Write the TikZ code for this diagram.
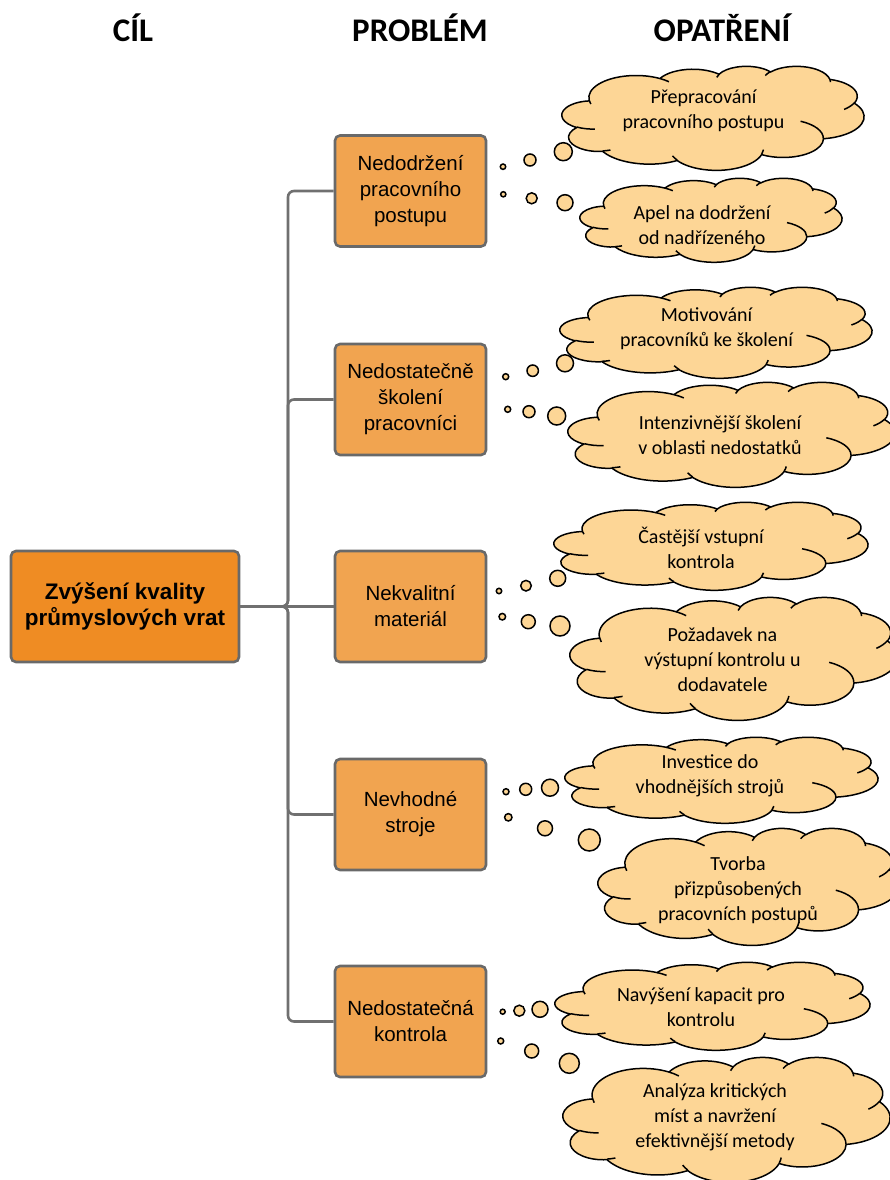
\documentclass[tikz,border=0pt]{standalone}
\usepackage{fontspec}
\setmainfont{Carlito}
\newfontfamily\boxfont{Liberation Sans}

\definecolor{goalfill}{RGB}{239,140,35}
\definecolor{probfill}{RGB}{241,164,80}
\definecolor{cloudfill}{RGB}{253,214,150}
\definecolor{boxline}{RGB}{105,105,105}
\definecolor{linegray}{RGB}{112,112,112}

% elliptical arc with true (not parametric) start angle and sweep, in degrees
\newcommand\ooarc[4]{%
  \pgfmathsetmacro\ooS{atan2((#1)*sin(#3),(#2)*cos(#3))}%
  \pgfmathsetmacro\ooE{atan2((#1)*sin((#3)+(#4)),(#2)*cos((#3)+(#4)))}%
  \pgfmathsetmacro\ooD{\ooE-\ooS}%
  \pgfmathsetmacro\ooD{ifthenelse((#4)>0,ifthenelse(\ooD<0,\ooD+360,\ooD),ifthenelse(\ooD>0,\ooD-360,\ooD))}%
  \pgfmathsetmacro\ooE{\ooS+\ooD}%
  \pgfpatharc{\ooS}{\ooE}{#1pt and #2pt}%
}

% cloud outline on a 432 x 432 frame
\newcommand\cloudoutline{%
  \pgfpathmoveto{\pgfpoint{39pt}{143.7pt}}%
  \ooarc{67.53}{91.90}{-190.4875}{123.7805}%
  \ooarc{53.33}{72.67}{-144.1024}{89.9452}%
  \ooarc{43.65}{59.45}{-145.8079}{99.7230}%
  \ooarc{48.57}{65.95}{-130.9861}{117.2417}%
  \ooarc{53.33}{72.73}{-78.7089}{109.0269}%
  \ooarc{67.75}{92.20}{-46.2673}{130.2690}%
  \ooarc{57.85}{78.67}{0.6250}{114.0333}%
  \ooarc{67.52}{92.15}{22.4516}{115.1726}%
  \ooarc{77.20}{105.43}{66.2426}{75.7110}%
  \ooarc{43.60}{59.18}{-274.9421}{146.7356}%
  \ooarc{43.45}{59.45}{-246.8285}{152.5195}%
  \pgfpathclose}

% the short inner creases of the cloud
\newcommand\cloudcreases{%
  \pgfpathmoveto{\pgfpoint{46.93pt}{261.77pt}}\ooarc{43.45}{59.45}{86.7420}{26.4295}%
  \pgfpathmoveto{\pgfpoint{69.28pt}{348.99pt}}\ooarc{43.60}{59.18}{73.6105}{11.4475}%
  \pgfpathmoveto{\pgfpoint{164.78pt}{390.90pt}}\ooarc{67.52}{92.15}{137.6242}{14.0811}%
  \pgfpathmoveto{\pgfpoint{288.27pt}{347.51pt}}\ooarc{67.52}{92.15}{6.4533}{15.9984}%
  \pgfpathmoveto{\pgfpoint{341.29pt}{229.54pt}}\ooarc{57.85}{78.67}{-70.2924}{70.9174}%
  \pgfpathmoveto{\pgfpoint{417.98pt}{153.54pt}}\ooarc{53.33}{72.73}{30.3180}{27.7515}%
  \pgfpathmoveto{\pgfpoint{383.24pt}{54.26pt}}\ooarc{48.57}{65.95}{-13.7443}{14.8589}%
  \pgfpathmoveto{\pgfpoint{290.78pt}{39.52pt}}\ooarc{48.57}{65.95}{-149.1815}{18.1954}%
  \pgfpathmoveto{\pgfpoint{221.41pt}{47.20pt}}\ooarc{43.65}{59.45}{-163.4943}{17.6864}%
  \pgfpathmoveto{\pgfpoint{140.00pt}{51.92pt}}\ooarc{67.53}{91.90}{-66.7070}{12.3194}%
  \pgfpathmoveto{\pgfpoint{41.27pt}{157.89pt}}\ooarc{67.53}{91.90}{157.6544}{11.8582}%
}

% thought cloud: left, top, width, height
\newcommand\thoughtcloud[4]{%
  \begin{scope}[shift={(#1,#2)},xscale=#3/432,yscale=#4/432]
    \pgfsetfillcolor{cloudfill}\pgfsetstrokecolor{black}\pgfsetlinewidth{1.5pt}%
    \pgfsetroundjoin
    \cloudoutline\pgfusepath{fill,stroke}%
    \cloudcreases\pgfusepath{stroke}%
  \end{scope}}

\tikzset{
  head/.style={font=\bfseries\fontsize{33}{40}\selectfont,anchor=base,inner sep=0},
  goalbox/.style={draw=boxline,line width=2.6pt,fill=goalfill,rounded corners=5pt,
    minimum width=228pt,minimum height=111pt,align=center,inner sep=0,
    font=\boxfont\bfseries\fontsize{22.5}{26}\selectfont},
  probbox/.style={draw=boxline,line width=2.6pt,fill=probfill,rounded corners=5pt,
    minimum width=151pt,minimum height=111pt,align=center,inner sep=0,
    font=\boxfont\fontsize{20.5}{26}\selectfont},
  conn/.style={draw=linegray,line width=2.6pt,rounded corners=6pt},
  bubble/.style={draw=black,line width=1.5pt,fill=cloudfill},
  cloudtext/.style={align=center,inner sep=0,font=\fontsize{20}{25}\selectfont},
}

\begin{document}
\begin{tikzpicture}[x=1pt,y=1pt,yscale=-1]
\useasboundingbox (0,0) rectangle (890,1180);

% column headings
\node[head] (hgoal) at (133,42) {CÍL};
\node[head] (hprob) at (420,42) {PROBLÉM};
\node[head] (hmeas) at (722,42) {OPATŘENÍ};

% goal and problems
\node[goalbox] (goal) at (125,606.5) {Zvýšení kvality\\průmyslových vrat};
\node[probbox] (p1) at (410.5,191) {Nedodržení\\pracovního\\postupu};
\node[probbox] (p2) at (410.5,399.5) {Nedostatečně\\školení\\pracovníci};
\node[probbox] (p3) at (410.5,606.5) {Nekvalitní\\materiál};
\node[probbox] (p4) at (410.5,814.5) {Nevhodné\\stroje};
\node[probbox] (p5) at (410.5,1021.5) {Nedostatečná\\kontrola};

% tree connectors: one elbow from the goal to each problem
\coordinate (tr) at (288,606.5);
\draw[conn] (goal.east) -- (tr) |- (p1.west);
\draw[conn] (goal.east) -- (tr) |- (p2.west);
\draw[conn] (goal.east) -- (p3.west);
\draw[conn] (goal.east) -- (tr) |- (p4.west);
\draw[conn] (goal.east) -- (tr) |- (p5.west);

% measures as thought clouds
\thoughtcloud{562}{66}{302}{104}
\thoughtcloud{580}{178}{262}{84}
\thoughtcloud{560}{287}{312}{91}
\thoughtcloud{568}{382}{327}{105}
\thoughtcloud{554}{502}{314}{88}
\thoughtcloud{570}{597}{328}{123}
\thoughtcloud{565}{737}{313}{86}
\thoughtcloud{598}{828}{301}{117}
\thoughtcloud{555}{962}{315}{88}
\thoughtcloud{563}{1057}{327}{125}

\node[cloudtext] (m1a) at (703.5,110.5) {Přepracování\\pracovního postupu};
\node[cloudtext] (m1b) at (702,225) {Apel na dodržení\\od nadřízeného};
\node[cloudtext] (m2a) at (706.5,329) {Motivování\\pracovníků ke školení};
\node[cloudtext] (m2b) at (720,435) {Intenzivnější školení\\v oblasti nedostatků};
\node[cloudtext] (m3a) at (701,547.5) {Častější vstupní\\kontrola};
\node[cloudtext] (m3b) at (722.5,660) {Požadavek na\\výstupní kontrolu u\\dodavatele};
\node[cloudtext] (m4a) at (710,775.5) {Investice do\\vhodnějších strojů};
\node[cloudtext] (m4b) at (738,890) {Tvorba\\přizpůsobených\\pracovních postupů};
\node[cloudtext] (m5a) at (701,1007.5) {Navýšení kapacit pro\\kontrolu};
\node[cloudtext] (m5b) at (715,1117) {Analýza kritických\\míst a navržení\\efektivnější metody};

% thought bubbles leading to the clouds
\draw[bubble] (503,166.7) circle[radius=2.7] (530,160) circle[radius=6] (563.3,151.7) circle[radius=9];
\draw[bubble] (503.3,194.3) circle[radius=2.6] (531.7,198.3) circle[radius=5.5] (565,202.7) circle[radius=8];
\draw[bubble] (505.7,376.7) circle[radius=3] (532.7,370.7) circle[radius=5.7] (565,363.3) circle[radius=8.5];
\draw[bubble] (507.7,409.3) circle[radius=3] (529,411.7) circle[radius=6] (556.7,416) circle[radius=9];
\draw[bubble] (499,591) circle[radius=2.7] (526,585.7) circle[radius=5.3] (557.7,578.3) circle[radius=8];
\draw[bubble] (502.3,616.7) circle[radius=3.3] (528.3,621.7) circle[radius=7] (560,626) circle[radius=10];
\draw[bubble] (506,791.7) circle[radius=3] (525.7,789.3) circle[radius=6] (550,787.7) circle[radius=8.5];
\draw[bubble] (508.3,817.3) circle[radius=3.7] (545,828.3) circle[radius=7.5] (589.3,840) circle[radius=11];
\draw[bubble] (502.7,1011.7) circle[radius=2.5] (519.3,1010.7) circle[radius=5.5] (540,1009.3) circle[radius=8];
\draw[bubble] (500.7,1041) circle[radius=3] (531.7,1051) circle[radius=7] (569.3,1063.3) circle[radius=10];
\end{tikzpicture}
\end{document}
